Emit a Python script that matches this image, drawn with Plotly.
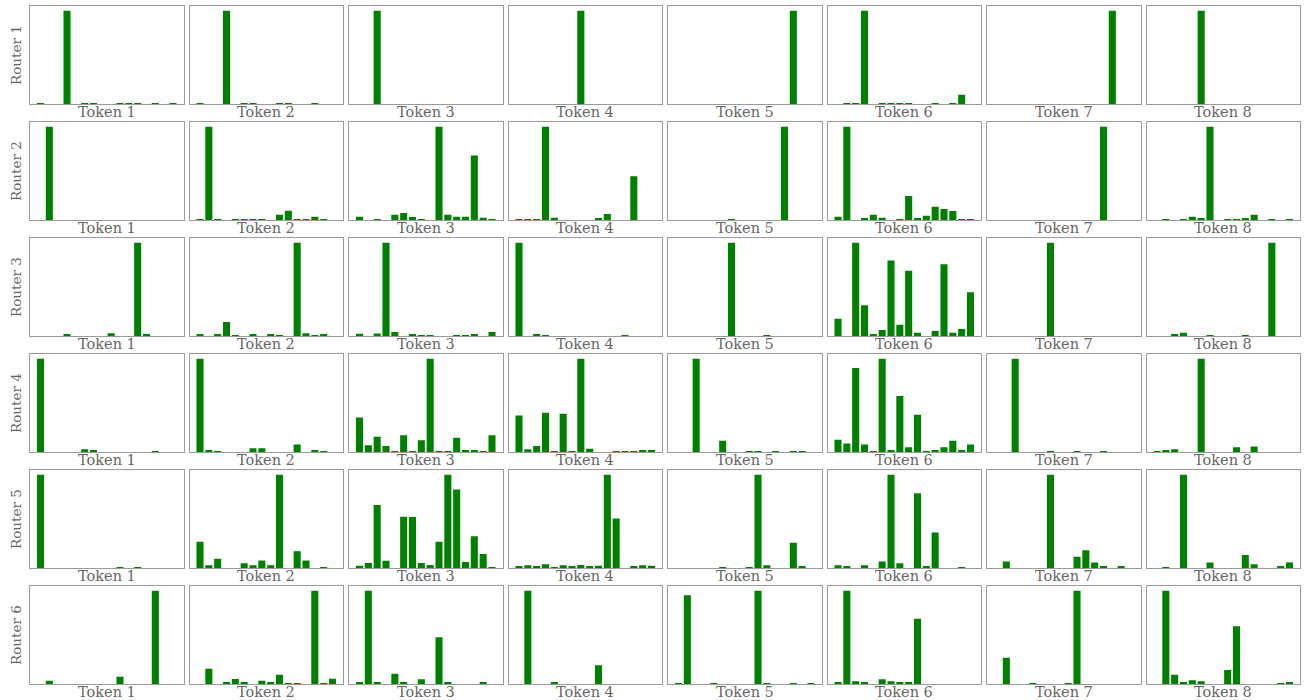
import plotly.graph_objects as go

# Routing weights per router (rows) and token (columns), 16 experts each
experts = list(range(16))
routers = ["Router 1", "Router 2", "Router 3", "Router 4", "Router 5", "Router 6"]
tokens = ["Token 1", "Token 2", "Token 3", "Token 4", "Token 5", "Token 6", "Token 7", "Token 8"]

router1 = [
    [0.005, 0, 0, 1, 0, 0.01, 0.005, 0, 0, 0.004, 0.004, 0.004, 0, 0.004, 0, 0.004],
    [0.004, 0, 0, 1, 0, 0.01, 0.004, 0, 0, 0.004, 0.004, 0, 0, 0.004, 0, 0],
    [0, 0, 1, 0, 0, 0, 0, 0, 0, 0, 0, 0, 0, 0, 0, 0],
    [0, 0, 0, 0, 0, 0, 0, 1, 0, 0, 0, 0, 0, 0, 0, 0],
    [0, 0, 0, 0, 0, 0, 0, 0, 0, 0, 0, 0, 0, 1, 0, 0],
    [0, 0.004, 0.004, 1, 0, 0.005, 0.005, 0.005, 0.005, 0, 0, 0.01, 0, 0.004, 0.1, 0],
    [0, 0, 0, 0, 0, 0, 0, 0, 0, 0, 0, 0, 0, 1, 0, 0],
    [0, 0, 0, 0, 0, 1, 0, 0, 0, 0, 0, 0, 0, 0, 0, 0],
]
router2 = [
    [0, 1, 0, 0, 0, 0, 0, 0, 0, 0, 0, 0, 0, 0, 0, 0],
    [0.004, 1, 0.004, 0, 0.004, 0.004, 0.004, 0.004, 0, 0.057, 0.1, 0.004, 0.004, 0.036, 0.004, 0],
    [0.036, 0, 0.01, 0, 0.057, 0.075, 0.032, 0.005, 0, 1, 0.057, 0.036, 0.036, 0.69, 0.025, 0.01],
    [0.004, 0.004, 0.004, 1, 0.025, 0, 0, 0, 0, 0.012, 0.064, 0, 0, 0.47, 0, 0],
    [0, 0, 0, 0, 0, 0, 0.004, 0, 0, 0, 0, 0, 1, 0, 0, 0],
    [0.036, 1, 0, 0.014, 0.057, 0.025, 0, 0.004, 0.256, 0.014, 0.046, 0.142, 0.117, 0.096, 0.004, 0.004],
    [0, 0, 0, 0, 0, 0, 0, 0, 0, 0, 0, 0, 1, 0, 0, 0],
    [0, 0.004, 0, 0.004, 0.036, 0.014, 1, 0, 0.004, 0.01, 0.014, 0.057, 0, 0.004, 0, 0.01],
]
router3 = [
    [0, 0, 0, 0.011, 0, 0, 0, 0, 0.029, 0, 0, 1, 0.021, 0, 0, 0],
    [0.021, 0, 0.014, 0.15, 0.004, 0, 0.018, 0, 0.014, 0.007, 0, 1, 0.029, 0.007, 0.011, 0],
    [0.025, 0, 0.028, 1, 0.043, 0, 0.014, 0.01, 0.004, 0, 0, 0.007, 0.007, 0.011, 0, 0.043],
    [1, 0, 0.011, 0.007, 0, 0, 0, 0, 0, 0, 0, 0, 0.007, 0, 0, 0],
    [0, 0, 0, 0, 0, 0, 1, 0, 0, 0, 0.007, 0, 0, 0, 0, 0],
    [0.186, 0, 1, 0.33, 0.018, 0.064, 0.81, 0.12, 0.70, 0.036, 0, 0.054, 0.77, 0.036, 0.075, 0.47],
    [0, 0, 0, 0, 0, 0, 1, 0, 0, 0, 0, 0, 0, 0, 0, 0],
    [0, 0, 0.014, 0.036, 0, 0, 0.004, 0, 0, 0, 0.004, 0, 0, 1, 0, 0],
]
router4 = [
    [1, 0, 0, 0, 0, 0.03, 0.02, 0, 0, 0, 0, 0, 0, 0.01, 0, 0],
    [1, 0.02, 0.01, 0, 0, 0, 0.04, 0.04, 0, 0, 0, 0.08, 0, 0.02, 0.01, 0],
    [0.37, 0.071, 0.164, 0.064, 0.004, 0.18, 0.004, 0.125, 1, 0.004, 0.004, 0.154, 0.018, 0.018, 0.007, 0.18],
    [0.39, 0.029, 0.064, 0.42, 0.004, 0.41, 0.004, 1, 0.036, 0, 0, 0.007, 0.004, 0.004, 0.018, 0.011],
    [0, 0, 1, 0, 0, 0.12, 0, 0, 0.005, 0.005, 0, 0.005, 0, 0.005, 0.005, 0],
    [0.13, 0.09, 0.9, 0.08, 0.01, 1, 0.02, 0.6, 0.05, 0.4, 0.01, 0.02, 0.05, 0.12, 0.02, 0.08],
    [0, 0, 1, 0, 0, 0, 0.005, 0, 0, 0.005, 0, 0, 0.005, 0, 0, 0],
    [0.01, 0.02, 0.03, 0, 0, 1, 0, 0, 0, 0.05, 0, 0.06, 0, 0, 0, 0],
]
router5 = [
    [1, 0, 0, 0, 0, 0, 0, 0, 0, 0.01, 0, 0.01, 0, 0, 0, 0],
    [0.28, 0.03, 0.1, 0, 0, 0.05, 0.03, 0.08, 0.03, 1, 0, 0.18, 0.08, 0, 0.01, 0],
    [0.025, 0.054, 0.675, 0.079, 0, 0.55, 0.546, 0.054, 0.032, 0.28, 1, 0.84, 0.064, 0.34, 0.15, 0.004],
    [0.011, 0.029, 0.018, 0.039, 0.004, 0.029, 0.018, 0.032, 0.014, 0.025, 1, 0.53, 0, 0.011, 0.029, 0.025],
    [0, 0, 0, 0, 0, 0.005, 0, 0, 0.005, 1, 0.03, 0, 0, 0.27, 0.02, 0],
    [0.03, 0.02, 0, 0.03, 0, 0.07, 1, 0.05, 0, 0.8, 0.02, 0.38, 0, 0, 0.01, 0],
    [0, 0.07, 0, 0, 0, 0, 1, 0, 0, 0.12, 0.19, 0.06, 0.02, 0, 0.02, 0],
    [0, 0.005, 0, 1, 0, 0, 0.06, 0, 0, 0, 0.14, 0.04, 0, 0, 0.02, 0.06],
]
router6 = [
    [0, 0.036, 0, 0, 0, 0, 0, 0, 0, 0.079, 0, 0, 0, 1, 0, 0],
    [0, 0.164, 0, 0.011, 0.054, 0.011, 0, 0.036, 0.014, 0.1, 0.004, 0.004, 0, 1, 0.004, 0.057],
    [0.02, 1, 0.02, 0, 0.11, 0.02, 0, 0.05, 0, 0.5, 0.02, 0, 0, 0, 0.02, 0],
    [0, 1, 0, 0, 0.02, 0, 0, 0, 0, 0.2, 0, 0, 0, 0, 0, 0],
    [0.01, 0.95, 0, 0, 0.01, 0, 0, 0, 0, 1, 0.01, 0, 0, 0.005, 0, 0.005],
    [0.02, 1, 0.03, 0.02, 0, 0.05, 0.03, 0.02, 0.02, 0.7, 0, 0, 0, 0, 0, 0],
    [0, 0.28, 0, 0, 0.005, 0, 0, 0, 0.01, 1, 0, 0, 0, 0, 0, 0],
    [0, 1, 0.1, 0.02, 0.04, 0.03, 0, 0, 0.15, 0.62, 0, 0, 0, 0, 0.01, 0.02],
]
weights = [router1, router2, router3, router4, router5, router6]

W, H = 1304, 700
col_left, col_pitch, panel_w = 30, 159.5, 153.5
row_top, row_pitch, panel_h = 6, 116, 98

FONT = "DejaVu Serif"
TEXT = "#666666"
FRAME = "#9a9a9a"

fig = go.Figure()
annotations = []
for r, router in enumerate(weights):
    y1 = 1 - (row_top + r * row_pitch) / H
    y0 = 1 - (row_top + r * row_pitch + panel_h) / H
    for c, vals in enumerate(router):
        k = r * 8 + c + 1
        x0 = (col_left + c * col_pitch) / W
        x1 = (col_left + c * col_pitch + panel_w) / W
        xa = "x" if k == 1 else f"x{k}"
        ya = "y" if k == 1 else f"y{k}"
        fig.add_trace(go.Bar(
            x=experts, y=vals, xaxis=xa, yaxis=ya,
            marker=dict(color="#008000", line=dict(width=0)),
            width=0.8, showlegend=False, hoverinfo="skip",
        ))
        ax = dict(domain=[x0, x1], range=[-1.19, 16.19], showticklabels=False,
                  ticks="", showgrid=False, zeroline=False, showline=True,
                  mirror=True, linecolor=FRAME, linewidth=1)
        ay = dict(domain=[y0, y1], range=[0, max(vals) * 1.05], showticklabels=False,
                  ticks="", showgrid=False, zeroline=False, showline=True,
                  mirror=True, linecolor=FRAME, linewidth=1)
        fig.layout[f"xaxis{'' if k == 1 else k}"] = dict(ax, anchor=ya)
        fig.layout[f"yaxis{'' if k == 1 else k}"] = dict(ay, anchor=xa)
        annotations.append(dict(
            text=tokens[c], x=(x0 + x1) / 2, y=y0, xref="paper", yref="paper",
            xanchor="center", yanchor="top", showarrow=False, yshift=2,
            font=dict(family=FONT, size=14.5, color=TEXT),
        ))
    annotations.append(dict(
        text=routers[r], x=16 / W, y=(y0 + y1) / 2, xref="paper", yref="paper",
        xanchor="center", yanchor="middle", showarrow=False, textangle=-90,
        font=dict(family=FONT, size=13.5, color=TEXT),
    ))

fig.update_layout(
    width=W, height=H, margin=dict(l=0, r=0, t=0, b=0),
    paper_bgcolor="white", plot_bgcolor="white",
    bargap=0.2, annotations=annotations,
)
fig.write_html("out.html")
